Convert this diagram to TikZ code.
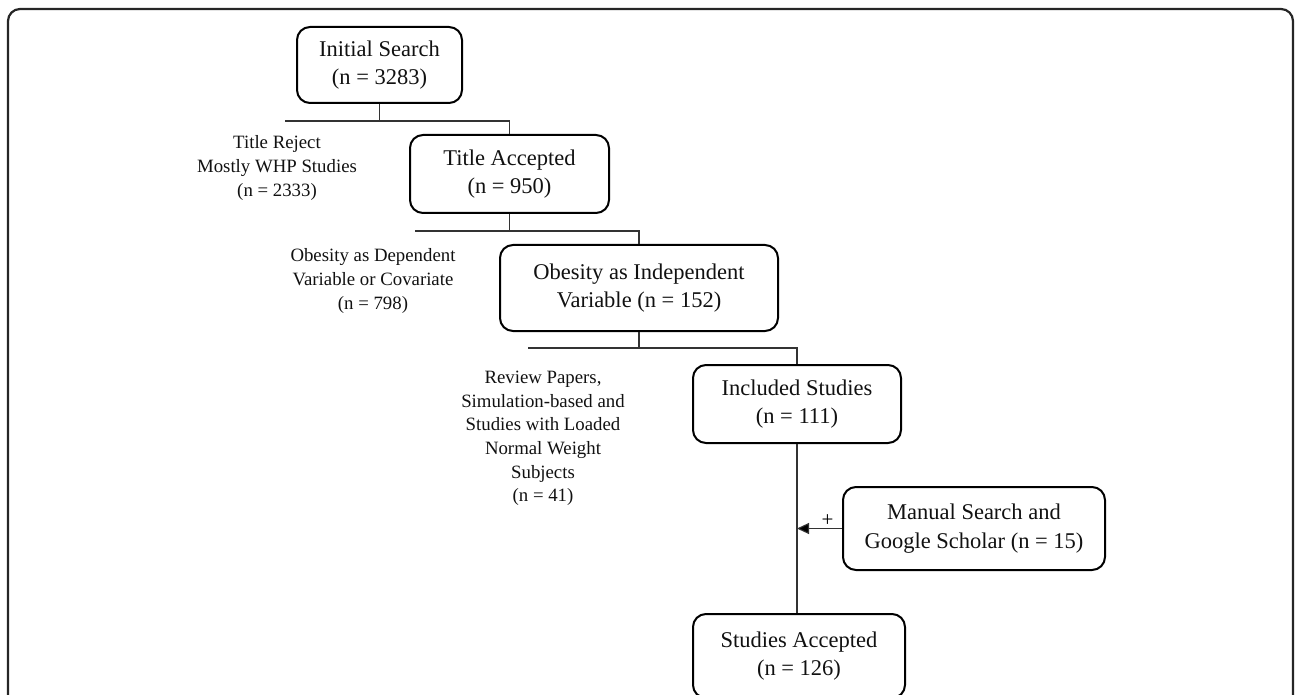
\documentclass[tikz,border=0pt]{standalone}
\usepackage{fontspec}
\setmainfont{Liberation Serif}
\usetikzlibrary{arrows.meta}
\definecolor{lnc}{HTML}{333333}
\definecolor{txc}{HTML}{111111}
\tikzset{
  flowbox/.style={draw=black, line width=2pt, rounded corners=13pt, inner sep=0pt,
    align=center, text=txc, font=\fontsize{22.5}{28.8}\selectfont},
  sidelabel/.style={inner sep=0pt, align=center, text=txc, font=\fontsize{18.8}{23.6}\selectfont},
  conn/.style={draw=lnc, line width=1.1pt},
  frameline/.style={draw=black!85, line width=2.2pt, rounded corners=12pt}
}
\begin{document}
\begin{tikzpicture}[x=1pt,y=-1pt]
\useasboundingbox (0,0) rectangle (1296,695);
\clip (0,0) rectangle (1296,695);
\draw[frameline] (8,720) -- (8,9) -- (1293,9) -- (1293,720);

\node[flowbox, minimum width=165pt, minimum height=76pt] (init) at (379.5,65) {Initial Search\\(n = 3283)};
\node[flowbox, minimum width=199pt, minimum height=78pt] (title) at (509.5,174) {Title Accepted\\(n = 950)};
\node[flowbox, minimum width=278pt, minimum height=86pt] (obind) at (639,288) {Obesity as Independent\\Variable (n = 152)};
\node[flowbox, minimum width=208pt, minimum height=78pt] (incl) at (797,404) {Included Studies\\(n = 111)};
\node[flowbox, minimum width=262pt, minimum height=83pt] (manual) at (974,528.5) {Manual Search and\\Google Scholar (n = 15)};
\node[flowbox, minimum width=212pt, minimum height=84pt] (acc) at (799,656) {Studies Accepted\\(n = 126)};

\node[sidelabel] (rej1) at (277,168) {Title Reject\\Mostly WHP Studies\\(n = 2333)};
\node[sidelabel] (rej2) at (373,281) {Obesity as Dependent\\Variable or Covariate\\(n = 798)};
\node[sidelabel] (rej3) at (543,438.5) {Review Papers,\\Simulation-based and\\Studies with Loaded\\Normal Weight\\Subjects\\(n = 41)};

% split 1
\coordinate (j1) at (init.south |- 0,121);
\coordinate (l1) at (285,121);
\draw[conn] (init.south) -- (j1);
\draw[conn] (l1) -- (title.north |- j1) -- (title.north);
% split 2
\coordinate (j2) at (title.south |- 0,231);
\coordinate (l2) at (415,231);
\draw[conn] (title.south) -- (j2);
\draw[conn] (l2) -- (obind.north |- j2) -- (obind.north);
% split 3
\coordinate (j3) at (obind.south |- 0,348);
\coordinate (l3) at (528,348);
\draw[conn] (obind.south) -- (j3);
\draw[conn] (l3) -- (incl.north |- j3) -- (incl.north);
% main line to accepted
\coordinate (m1) at (incl.south |- acc.north);
\draw[conn] (incl.south) -- (m1);
\coordinate (tip) at (manual.west -| incl.south);
\draw[conn, -{Triangle[length=12pt,width=11pt,fill=black]}] (manual.west) -- (tip)
  node[pos=0.32, above=0pt, inner sep=1pt, text=black, font=\fontsize{21}{24}\selectfont] (plus) {+};
\end{tikzpicture}
\end{document}
